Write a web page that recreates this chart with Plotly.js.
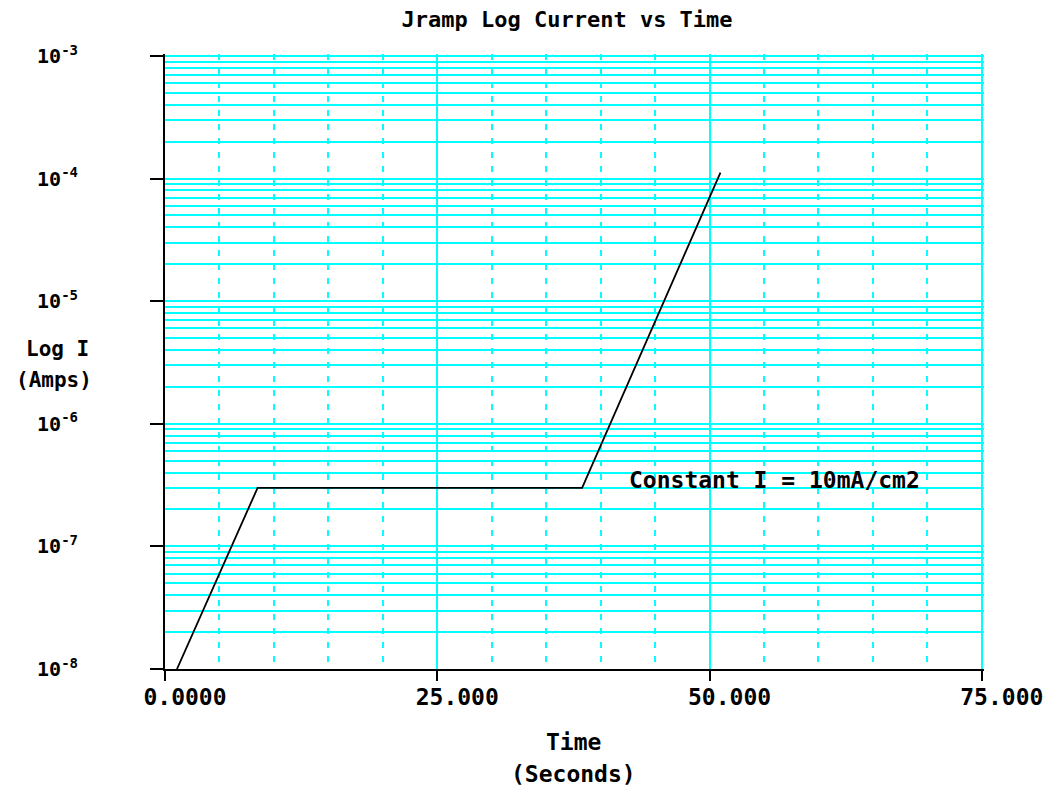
<!DOCTYPE html>
<html>
<head>
<meta charset="utf-8">
<script src="https://cdn.plot.ly/plotly-3.0.1.min.js"></script>
<style>html,body{margin:0;padding:0;background:#fff;}#chart{width:1054px;height:786px;}</style>
</head>
<body>
<div id="chart"></div>
<script>
// Data
var timeSeconds = [1.1, 8.5, 38.3, 51.0];
var currentAmps = [1.0e-8, 3.0e-7, 3.0e-7, 1.12e-4];

var xTickVals = [0, 25, 50, 75];
var xTickText = ['0.0000', '25.000', '50.000', '75.000'];
var yTickVals = [1e-8, 1e-7, 1e-6, 1e-5, 1e-4, 1e-3];
var yTickText = ['10<sup>-8</sup>', '10<sup>-7</sup>', '10<sup>-6</sup>', '10<sup>-5</sup>', '10<sup>-4</sup>', '10<sup>-3</sup>'];

var chartTitle = 'Jramp Log Current vs Time';
var annotationText = 'Constant I = 10mA/cm2';
var annotationPos = {x: 56.0, y: 3.45e-7};

var FONT = 'DejaVu Sans Mono, monospace';
var CYAN = '#00FFFF';

var trace = {
  x: timeSeconds,
  y: currentAmps,
  type: 'scatter',
  mode: 'lines',
  line: {color: '#000000', width: 1.8},
  showlegend: false,
  hoverinfo: 'skip'
};

var layout = {
  width: 1054,
  height: 786,
  margin: {l: 165, r: 70, t: 54, b: 117},
  paper_bgcolor: '#ffffff',
  plot_bgcolor: '#ffffff',
  showlegend: false,
  title: {
    text: '<b>' + chartTitle + '</b>',
    font: {family: FONT, size: 22, color: '#000'},
    x: 0.538, xanchor: 'center',
    y: 0.975, yanchor: 'middle'
  },
  xaxis: {
    type: 'linear',
    range: [0, 75.2],
    tickvals: xTickVals,
    ticktext: xTickText,
    ticks: 'outside',
    ticklen: 10,
    tickwidth: 2,
    tickcolor: '#000',
    ticklabelshift: 20,
    ticklabelstandoff: -4,
    tickfont: {family: FONT, size: 23, color: '#000', weight: 'bold'},
    showline: true,
    linecolor: '#000',
    linewidth: 2,
    showgrid: true,
    gridcolor: CYAN,
    gridwidth: 2,
    zeroline: false,
    minor: {
      tick0: 0,
      dtick: 5,
      ticks: '',
      showgrid: true,
      gridcolor: CYAN,
      gridwidth: 2,
      griddash: '6px,8px'
    }
  },
  yaxis: {
    type: 'log',
    range: [-8, -2.984],
    tickvals: yTickVals,
    ticktext: yTickText,
    ticks: 'outside',
    ticklen: 13,
    tickwidth: 2,
    tickcolor: '#000',
    ticklabelstandoff: 68,
    tickfont: {family: FONT, size: 20, color: '#000', weight: 'bold'},
    showline: true,
    linecolor: '#000',
    linewidth: 2,
    showgrid: true,
    gridcolor: CYAN,
    gridwidth: 2,
    zeroline: false,
    minor: {
      dtick: 'D1',
      ticks: '',
      showgrid: true,
      gridcolor: CYAN,
      gridwidth: 2
    }
  },
  annotations: [
    {
      x: annotationPos.x, y: Math.log10(annotationPos.y),
      xref: 'x', yref: 'y',
      text: '<b>' + annotationText + '</b>',
      showarrow: false,
      xanchor: 'center', yanchor: 'middle',
      font: {family: FONT, size: 23, color: '#000'}
    },
    {
      x: -0.131, y: 0.52, xref: 'paper', yref: 'paper',
      text: '<b>Log I</b>', showarrow: false, xanchor: 'center', yanchor: 'middle',
      font: {family: FONT, size: 21, color: '#000'}
    },
    {
      x: -0.135, y: 0.47, xref: 'paper', yref: 'paper',
      text: '<b>(Amps)</b>', showarrow: false, xanchor: 'center', yanchor: 'middle',
      font: {family: FONT, size: 21, color: '#000'}
    },
    {
      x: 0.499, y: -0.119, xref: 'paper', yref: 'paper',
      text: '<b>Time</b>', showarrow: false, xanchor: 'center', yanchor: 'middle',
      font: {family: FONT, size: 23, color: '#000'}
    },
    {
      x: 0.499, y: -0.170, xref: 'paper', yref: 'paper',
      text: '<b>(Seconds)</b>', showarrow: false, xanchor: 'center', yanchor: 'middle',
      font: {family: FONT, size: 23, color: '#000'}
    }
  ]
};

Plotly.newPlot('chart', [trace], layout, {staticPlot: true, displayModeBar: false});
</script>
</body>
</html>
